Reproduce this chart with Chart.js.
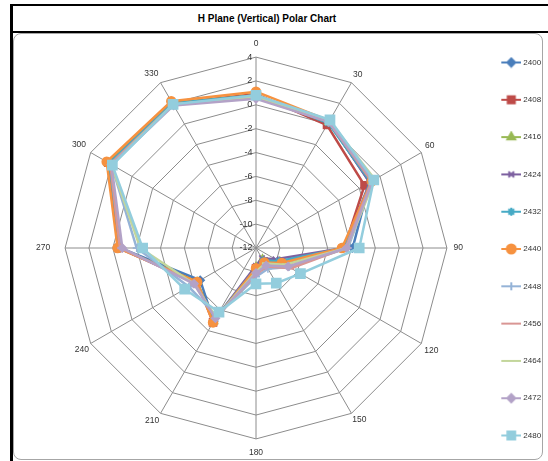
<!DOCTYPE html>
<html>
<head>
<meta charset="utf-8">
<script src="https://cdn.jsdelivr.net/npm/chart.js@4.4.1/dist/chart.umd.min.js"></script>
<style>
    body { margin: 0; background: #fff; font-family: Arial, "Liberation Sans", sans-serif; overflow: hidden; }
    #frame {
        position: absolute; left: 10px; top: 4px; width: 538px; height: 457px;
        border-left: 3px solid #000; border-top: 2px solid #000;
    }
    #title {
        height: 25px; border-bottom: 2px solid #000;
        font: bold 10px Arial, "Liberation Sans", sans-serif; line-height: 25px; color: #000;
        text-align: center; padding-right: 30px;
    }
    #box {
        position: absolute; left: 13px; top: 33px; width: 530px; height: 427px;
        box-sizing: border-box; border: 1px solid #a6a6a6; border-radius: 8px;
    }
    /* canvas is taller than the box so the legend can keep Excel's spacing */
    #chart { position: absolute; left: 0; top: -18px; display: block; }
</style>
</head>
<body>
<div id="frame"><div id="title">H Plane (Vertical) Polar Chart</div></div>
<div id="box"><canvas id="chart" width="528" height="466"></canvas></div>
<script>
// angles (degrees) round the plot
const angles = ['0', '30', '60', '90', '120', '150', '180', '210', '240', '270', '300', '330'];

// radial scale
const scaleMin = -12;
const scaleMax = 4;
const scaleStep = 2;

// one array per frequency, values in dB
const s2400 = [0.8, 0.2, -1.0, -3.9, -9.6, -10.6, -10.2, -4.9, -6.6, -0.6, 2.2, 1.9];
const s2408 = [0.9, -0.1, -1.5, -4.6, -9.3, -10.7, -10.3, -4.8, -6.3, -0.5, 2.3, 2.0];
const s2416 = [0.8, 0.2, -0.8, -4.7, -9.7, -10.9, -10.4, -4.9, -6.3, -0.5, 2.3, 2.0];
const s2424 = [0.7, 0.2, -1.0, -4.6, -10.1, -11.0, -10.5, -5.0, -6.2, -0.5, 2.2, 2.0];
const s2432 = [0.8, 0.1, -0.9, -4.6, -9.8, -10.8, -10.3, -5.0, -6.2, -0.6, 2.2, 2.0];
const s2440 = [1.1, 0.3, -0.8, -4.8, -9.5, -10.6, -10.3, -4.8, -6.3, -0.4, 2.45, 2.2];
const s2448 = [0.6, 0.2, -0.7, -4.3, -8.8, -10.0, -9.6, -5.4, -5.5, -2.0, 2.0, 1.9];
const s2456 = [0.6, 0.2, -0.8, -4.5, -8.6, -10.2, -9.8, -5.2, -6.1, -0.6, 2.1, 1.9];
const s2464 = [0.7, 0.3, -0.5, -4.4, -9.2, -10.5, -10.0, -5.3, -6.0, -2.3, 2.0, 1.9];
const s2472 = [0.5, 0.2, -0.7, -4.4, -8.9, -10.3, -9.9, -5.2, -6.0, -0.8, 2.0, 1.8];
const s2480 = [0.8, 0.4, -0.6, -3.35, -7.7, -8.6, -9.0, -5.8, -5.1, -2.5, 1.9, 1.9];

const seriesNames = ['2400', '2408', '2416', '2424', '2432', '2440', '2448', '2456', '2464', '2472', '2480'];
const seriesValues = [s2400, s2408, s2416, s2424, s2432, s2440, s2448, s2456, s2464, s2472, s2480];

// Excel style colours and markers
const colors = ['#4A7EBB', '#BE4B48', '#98B954', '#7D60A0', '#46AAC5', '#F69240',
                '#95B3D7', '#D99694', '#C3D69B', '#B3A2C7', '#93CDDD'];
const markers = ['rectRot', 'rect', 'triangle', 'crossRot', 'star', 'circle',
                 'cross', 'line', 'line', 'rectRot', 'rect'];
const markerSizes = [4, 5, 4.5, 4, 4, 4.5, 4, 3, 3, 4, 6.5];

// distance of each angle label from the outer ring (Excel centres them on a circle)
const labelPads = [1.4, -3.3, -2.2, 0, -3.2, -4.8, 2.4, -3.7, -4.6, 8.4, -1.2, -2.4];

const FONT = 'Arial, "Liberation Sans", sans-serif';
const TEXT_COLOR = '#333';
const GRID_COLOR = '#8c8c8c';

// push tick labels to the left of the vertical axis by padding with spaces
const measureCtx = document.createElement('canvas').getContext('2d');
measureCtx.font = '9px ' + FONT;
const spaceWidth = measureCtx.measureText(' ').width;
function padTick(text) {
    const w = measureCtx.measureText(text).width;
    const n = Math.round((w + 2 * 4) / spaceWidth);
    return text + ' '.repeat(n);
}

// small line + marker pictures for the legend
function legendIcon(i) {
    const c = document.createElement('canvas');
    c.width = 24;
    c.height = 12;
    const ctx = c.getContext('2d');
    ctx.strokeStyle = colors[i];
    ctx.fillStyle = colors[i];
    ctx.lineWidth = 2;
    ctx.beginPath();
    ctx.moveTo(4, 6);
    ctx.lineTo(24, 6);
    ctx.stroke();
    Chart.helpers.drawPoint(ctx, {
        pointStyle: markers[i],
        radius: Math.min(markerSizes[i], 5.5),
        borderWidth: 1.5,
        rotation: 0
    }, 14, 6);
    return c;
}
const legendIcons = seriesNames.map((_, i) => legendIcon(i));

const datasets = seriesNames.map((name, i) => ({
    label: name,
    data: seriesValues[i],
    borderColor: colors[i],
    backgroundColor: colors[i],
    borderWidth: 2.5,
    fill: false,
    tension: 0,
    pointStyle: markers[i],
    pointRadius: markerSizes[i],
    pointBorderWidth: markers[i] === 'line' ? 2.5 : 1.5,
    pointBorderColor: colors[i],
    pointBackgroundColor: colors[i],
    // later series are painted on top, like Excel
    order: seriesNames.length - i
}));

new Chart(document.getElementById('chart'), {
    type: 'radar',
    data: { labels: angles, datasets: datasets },
    options: {
        responsive: false,
        animation: false,
        layout: { padding: { left: 15, right: -9.1, top: 0, bottom: 0 } },
        plugins: {
            title: { display: false },
            tooltip: { enabled: false },
            legend: {
                position: 'right',
                labels: {
                    usePointStyle: true,
                    pointStyleWidth: 20,
                    padding: 29.3,
                    color: TEXT_COLOR,
                    font: { size: 8, family: FONT },
                    sort: (a, b) => a.datasetIndex - b.datasetIndex,
                    generateLabels: (chart) => Chart.defaults.plugins.legend.labels.generateLabels(chart)
                        .map(item => ({ ...item, pointStyle: legendIcons[item.datasetIndex] }))
                }
            }
        },
        scales: {
            r: {
                min: scaleMin,
                max: scaleMax,
                startAngle: 0,
                grid: { circular: false, color: GRID_COLOR, lineWidth: 1 },
                angleLines: { color: GRID_COLOR, lineWidth: 1 },
                pointLabels: {
                    color: TEXT_COLOR,
                    padding: (ctx) => labelPads[ctx.index],
                    font: { size: 8.5, family: FONT }
                },
                ticks: {
                    stepSize: scaleStep,
                    showLabelBackdrop: false,
                    color: TEXT_COLOR,
                    font: { size: 9, family: FONT },
                    callback: (v) => padTick(String(v))
                }
            }
        }
    }
});
</script>
</body>
</html>
